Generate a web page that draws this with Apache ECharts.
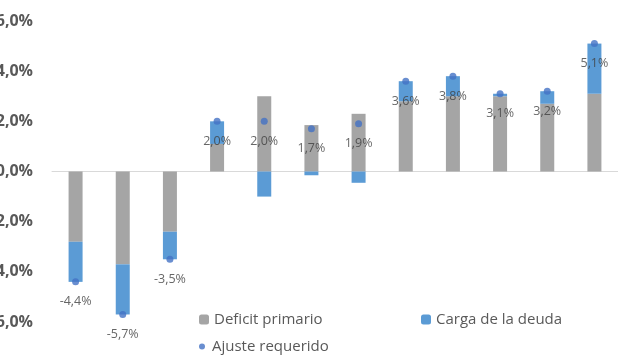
<!DOCTYPE html>
<html>
<head>
<meta charset="utf-8">
<script src="https://cdn.jsdelivr.net/npm/echarts@6/dist/echarts.min.js"></script>
<style>
  html, body { margin: 0; padding: 0; background: #fff; }
  #chart { width: 618px; height: 362px; }
</style>
</head>
<body>
<div id="chart"></div>
<script>
const categories = ['1', '2', '3', '4', '5', '6', '7', '8', '9', '10', '11', '12']
const deficitPrimario = [-2.8, -3.7, -2.4, 1.1, 3.0, 1.85, 2.3, 2.8, 3.0, 3.0, 2.7, 3.1]
const cargaDeuda = [-1.6, -2.0, -1.1, 0.9, -1.0, -0.15, -0.45, 0.8, 0.8, 0.1, 0.5, 2.0]
const ajusteRequerido = [-4.4, -5.7, -3.5, 2.0, 2.0, 1.7, 1.9, 3.6, 3.8, 3.1, 3.2, 5.1]
const yTicks = { min: -6, max: 6, interval: 2 }

const fmt = (v) => v.toFixed(1).replace('.', ',') + '%'
const fontFamily = '"Open Sans", "Noto Sans", sans-serif'

const chart = echarts.init(document.getElementById('chart'))

const legendBase = {
  orient: 'horizontal',
  itemWidth: 10,
  itemHeight: 10,
  textStyle: { color: '#595959', fontSize: 15, fontFamily: fontFamily },
}

const option = {
  animation: false,
  grid: { left: 52, right: 0, top: 21, bottom: 40, containLabel: false, outerBoundsMode: 'none' },
  legend: [
    { ...legendBase, left: 194, top: 307, data: ['Deficit primario'] },
    { ...legendBase, left: 416, top: 307, data: ['Carga de la deuda'] },
    { ...legendBase, left: 194, top: 334, itemHeight: 6, data: [{ name: 'Ajuste requerido', icon: 'circle' }] },
  ],
  xAxis: {
    type: 'category',
    data: categories,
    axisLine: { onZero: true, lineStyle: { color: '#d9d9d9', width: 1 } },
    axisTick: { show: false },
    axisLabel: { show: false },
    splitLine: { show: false },
  },
  yAxis: {
    type: 'value',
    min: yTicks.min,
    max: yTicks.max,
    interval: yTicks.interval,
    axisLine: { show: false },
    axisTick: { show: false },
    splitLine: { show: false },
    axisLabel: {
      formatter: fmt,
      color: '#595959',
      fontSize: 16,
      fontWeight: 'bold',
      fontFamily: fontFamily,
      margin: 19,
    },
  },
  series: [
    {
      name: 'Deficit primario',
      type: 'bar',
      stack: 'total',
      barWidth: 14,
      itemStyle: { color: '#a5a5a5' },
      data: deficitPrimario,
    },
    {
      name: 'Carga de la deuda',
      type: 'bar',
      stack: 'total',
      barWidth: 14,
      itemStyle: { color: '#5b9bd5' },
      data: cargaDeuda,
    },
    {
      name: 'Ajuste requerido',
      type: 'scatter',
      symbol: 'circle',
      symbolSize: 7,
      itemStyle: { color: '#4472c4' },
      z: 5,
      label: {
        show: true,
        position: 'bottom',
        distance: 10,
        formatter: (p) => fmt(p.value),
        color: '#404040',
        fontSize: 12.5,
        fontFamily: fontFamily,
      },
      data: ajusteRequerido,
    },
  ],
}

chart.setOption(option)
</script>
</body>
</html>
